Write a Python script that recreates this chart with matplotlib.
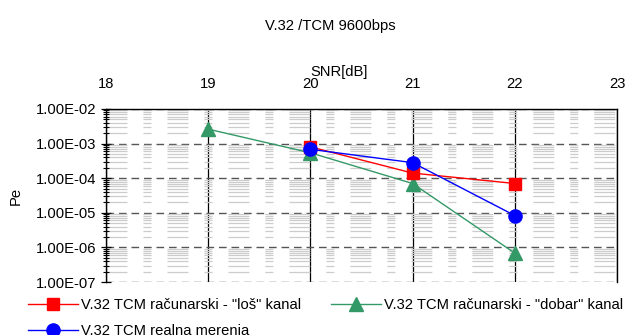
import matplotlib.pyplot as plt
from matplotlib.ticker import FixedLocator

plt.rcParams['font.family'] = ['Liberation Sans', 'DejaVu Sans']
plt.rcParams['lines.scale_dashes'] = False

# SNR [dB] and bit error probability for each series
snr_los = [20, 21, 22]
pe_los = [8.0e-4, 1.4e-4, 7.0e-5]

snr_dobar = [19, 20, 21, 22]
pe_dobar = [2.6e-3, 5.4e-4, 7.0e-5, 6.8e-7]

snr_real = [20, 21, 22]
pe_real = [6.8e-4, 2.8e-4, 8.3e-6]

x_ticks = [18, 19, 20, 21, 22, 23]
y_ticks = [1e-7, 1e-6, 1e-5, 1e-4, 1e-3, 1e-2]
y_labels = ['1.00E-07', '1.00E-06', '1.00E-05', '1.00E-04', '1.00E-03', '1.00E-02']
y_minor = [m * d for d in y_ticks[:-1] for m in range(2, 10)]

fs = 10.6

fig = plt.figure(figsize=(6.26, 3.35), dpi=100)
ax = fig.add_axes([0.169, 0.158, 0.817, 0.517])

ax.set_xlim(18, 23)
ax.set_yscale('log')
ax.set_ylim(1e-7, 1e-2)

ax.xaxis.set_major_locator(FixedLocator(x_ticks))
ax.xaxis.tick_top()
ax.xaxis.set_label_position('top')
ax.tick_params(axis='x', which='both', length=0, labelsize=fs, pad=13)
ax.set_yticks(y_ticks)
ax.set_yticklabels(y_labels)
ax.set_yticks(y_minor, minor=True)
ax.tick_params(axis='y', which='major', direction='inout', length=7, width=0.9, labelsize=fs)
ax.tick_params(axis='y', which='minor', direction='inout', length=5, width=0.8, labelleft=False)

# minor grid: light grey long-short dashes
ax.grid(True, which='minor', axis='y', color='#cccccc', lw=0.9,
        linestyle=(0, (15.1, 11.5, 5.8, 11.5)))
# major horizontal grid: dark dashes
ax.grid(True, which='major', axis='y', color='#555555', lw=1.0,
        linestyle=(0, (5.5, 3.5)))
ax.grid(True, which='major', axis='x', color='black', lw=0.9, linestyle='-')

ax.spines['bottom'].set_visible(False)
for s in ['top', 'left', 'right']:
    ax.spines[s].set_linewidth(1.0)

ax.set_xlabel('SNR[dB]', fontsize=fs)
ax.xaxis.set_label_coords(0.456, 1.19)
ax.set_ylabel('Pe', fontsize=fs, labelpad=9)

l1, = ax.plot(snr_los, pe_los, color='red', lw=1.0, marker='s', markersize=9,
              label='V.32 TCM računarski - "loš" kanal', zorder=4)
l3, = ax.plot(snr_dobar, pe_dobar, color='#339966', lw=1.0, marker='^', markersize=10,
              label='V.32 TCM računarski - "dobar" kanal', zorder=3)
l2, = ax.plot(snr_real, pe_real, color='blue', lw=1.0, marker='o', markersize=9.5,
              label='V.32 TCM realna merenja', zorder=5)

fig.text(0.527, 0.922, 'V.32 /TCM 9600bps', ha='center', va='center', fontsize=fs)

fig.legend(handles=[l1, l2, l3], loc='lower left', bbox_to_anchor=(0.024, -0.05),
           ncol=2, frameon=False, fontsize=fs, handlelength=3.4, handletextpad=0.2,
           columnspacing=2.0, labelspacing=0.85)

fig.savefig('out.png', dpi=100)
